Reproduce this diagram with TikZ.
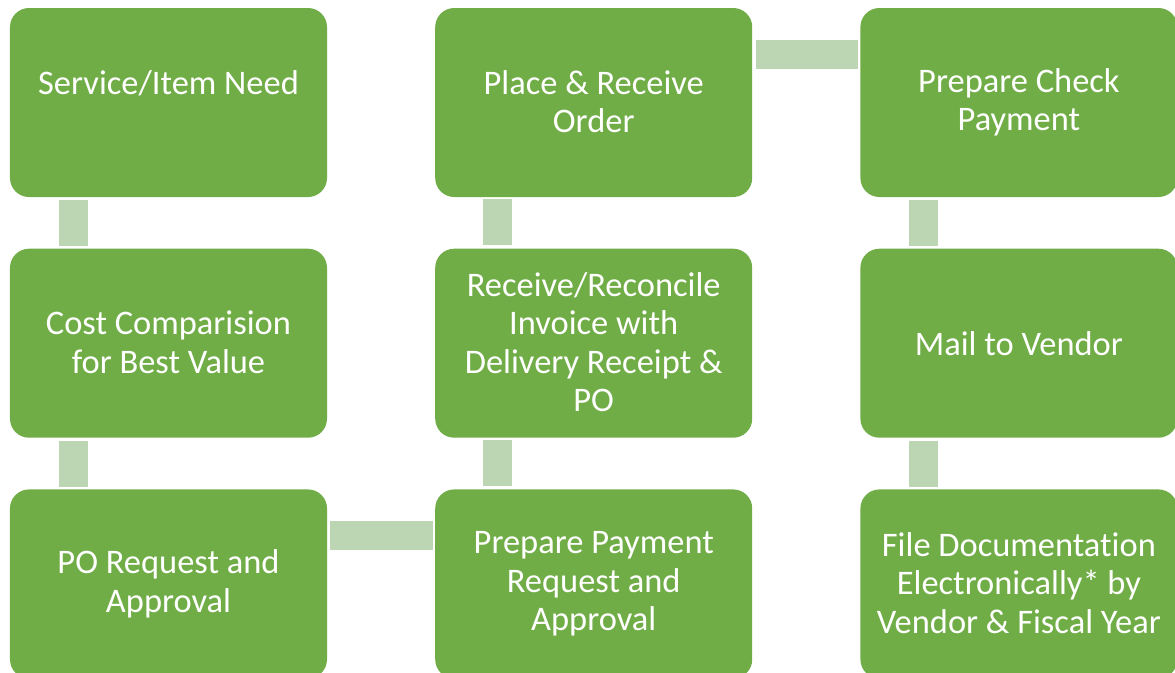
\documentclass[tikz,border=0pt]{standalone}
\usepackage{fontspec}
\setmainfont[Ligatures=NoCommon]{Carlito}
\usetikzlibrary{positioning}
\definecolor{boxgreen}{HTML}{70AD47}
\definecolor{bargreen}{HTML}{BCD5B3}
\newcommand{\evenstrut}{\rule[-0.05\baselineskip]{0pt}{\baselineskip}}

\begin{document}
\begin{tikzpicture}[
    plainbox/.style={rectangle, rounded corners=0.38cm, fill=boxgreen, text=white,
      minimum width=6.34cm, minimum height=3.78cm, inner sep=0pt, align=center,
      font=\fontsize{19.6pt}{21.9pt}\selectfont},
    stepbox/.style={plainbox, execute at begin node=\evenstrut, execute at end node=\evenstrut},
    linkbar/.style={draw=bargreen, line width=0.58cm, shorten <=0.06cm, shorten >=0.04cm},
    node distance=1.02cm and 2.15cm]
      \useasboundingbox (0,0) rectangle (23.5,-13.44);

      \node[stepbox] (need) at (3.37,-2.05) {Service/Item Need\\ \phantom{Order}};
      \node[stepbox, below=of need] (cost) {Cost Comparision\\for Best Value};
      \node[stepbox, below=of cost] (po) {PO Request and\\Approval};

      \node[stepbox, right=of po] (pay) {Prepare Payment\\Request and\\Approval};
      \node[stepbox, above=of pay] (recon) {Receive/Reconcile\\Invoice with\\Delivery Receipt \&\\PO};
      \node[stepbox, above=of recon] (order) {Place \& Receive\\Order};

      \node[stepbox, right=of order] (check) {Prepare Check\\Payment};
      \node[plainbox, below=of check] (mail) {Mail to Vendor};
      \node[stepbox, below=of mail] (file) {File Documentation\\Electronically* by\\Vendor \& Fiscal Year};

      \draw[linkbar] ([xshift=1.27cm]need.south west) -- ([xshift=1.27cm]cost.north west);
      \draw[linkbar] ([xshift=1.27cm]cost.south west) -- ([xshift=1.27cm]po.north west);
      \draw[linkbar] ([yshift=-0.93cm]po.north east) -- ([yshift=-0.93cm]pay.north west);
      \draw[linkbar] ([xshift=1.25cm]pay.north west) -- ([xshift=1.25cm]recon.south west);
      \draw[linkbar] ([xshift=1.25cm]recon.north west) -- ([xshift=1.25cm]order.south west);
      \draw[linkbar] ([yshift=-0.93cm]order.north east) -- ([yshift=-0.93cm]check.north west);
      \draw[linkbar] ([xshift=1.27cm]check.south west) -- ([xshift=1.27cm]mail.north west);
      \draw[linkbar] ([xshift=1.27cm]mail.south west) -- ([xshift=1.27cm]file.north west);

    \end{tikzpicture}
\end{document}
